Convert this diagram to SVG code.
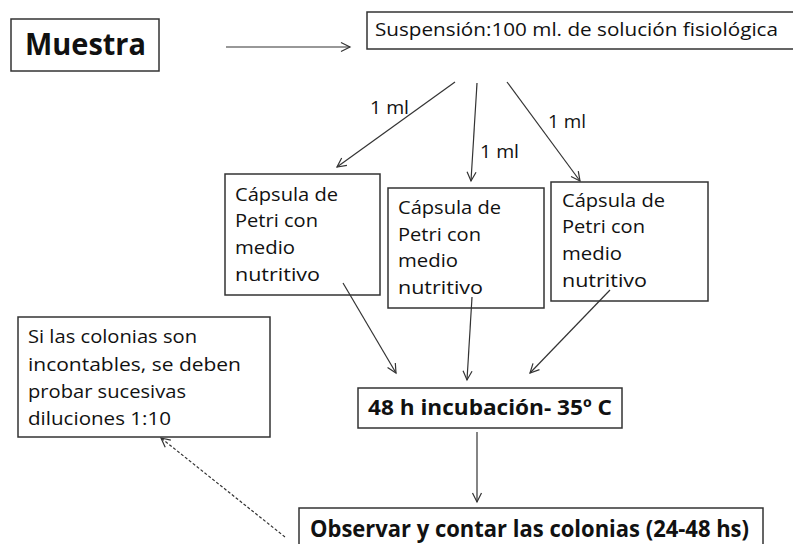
<svg xmlns="http://www.w3.org/2000/svg" width="793" height="544" viewBox="0 0 793 544">
<style>
.box{fill:#fff;stroke:#333;stroke-width:1.5}
.t{font-family:"Open Sans","Liberation Sans",sans-serif;font-size:18.5px;fill:#111;font-variant-ligatures:none}
.b{font-family:"Open Sans","Liberation Sans",sans-serif;font-weight:bold;fill:#111;font-variant-ligatures:none}
.c{stroke:#333;stroke-width:1.2;fill:none}
.d{stroke:#333;stroke-width:1.2;fill:none;stroke-dasharray:3,2}
</style>
<defs>
<marker id="ah" markerWidth="12" markerHeight="12" viewBox="0 0 12 12" refX="10" refY="6" orient="auto" markerUnits="userSpaceOnUse">
<polyline points="1,1.5 10,6 1,10.5" fill="none" stroke="#333" stroke-width="1.2"/>
</marker>
</defs>
<rect width="793" height="544" fill="#fff"/>
<g id="muestra">
<rect class="box" x="11" y="19" width="148" height="52"/>
<text class="b" x="25" y="55" font-size="31" textLength="121" lengthAdjust="spacingAndGlyphs">Muestra</text>
</g>
<g id="suspension">
<rect class="box" x="367" y="12" width="440" height="37"/>
<text class="t" x="375" y="36" font-size="17" textLength="403" lengthAdjust="spacingAndGlyphs">Suspensión:100 ml. de solución fisiológica</text>
</g>
<g id="capsula1">
<rect class="box" x="225" y="174" width="155" height="121"/>
<text class="t" x="235" y="200.5" textLength="103" lengthAdjust="spacingAndGlyphs">Cápsula de</text>
<text class="t" x="235" y="227" textLength="83" lengthAdjust="spacingAndGlyphs">Petri con</text>
<text class="t" x="235" y="253.5" textLength="60" lengthAdjust="spacingAndGlyphs">medio</text>
<text class="t" x="235" y="280.5" textLength="85" lengthAdjust="spacingAndGlyphs">nutritivo</text>
</g>
<g id="capsula2">
<rect class="box" x="388" y="188" width="156" height="120"/>
<text class="t" x="398" y="214" textLength="103" lengthAdjust="spacingAndGlyphs">Cápsula de</text>
<text class="t" x="398" y="240.5" textLength="83" lengthAdjust="spacingAndGlyphs">Petri con</text>
<text class="t" x="398" y="267" textLength="60" lengthAdjust="spacingAndGlyphs">medio</text>
<text class="t" x="398" y="294" textLength="85" lengthAdjust="spacingAndGlyphs">nutritivo</text>
</g>
<g id="capsula3">
<rect class="box" x="551" y="182" width="157" height="119"/>
<text class="t" x="562" y="206.5" textLength="103" lengthAdjust="spacingAndGlyphs">Cápsula de</text>
<text class="t" x="562" y="233" textLength="83" lengthAdjust="spacingAndGlyphs">Petri con</text>
<text class="t" x="562" y="260" textLength="60" lengthAdjust="spacingAndGlyphs">medio</text>
<text class="t" x="562" y="286.5" textLength="85" lengthAdjust="spacingAndGlyphs">nutritivo</text>
</g>
<g id="nota">
<rect class="box" x="18" y="317" width="252" height="120"/>
<text class="t" x="28" y="342.5" textLength="169" lengthAdjust="spacingAndGlyphs">Si las colonias son</text>
<text class="t" x="28" y="370.5" textLength="213" lengthAdjust="spacingAndGlyphs">incontables,  se deben</text>
<text class="t" x="28" y="398" textLength="158" lengthAdjust="spacingAndGlyphs">probar sucesivas</text>
<text class="t" x="28" y="425" textLength="143" lengthAdjust="spacingAndGlyphs">diluciones 1:10</text>
</g>
<g id="incubacion">
<rect class="box" x="358" y="388" width="264" height="40"/>
<text class="b" x="368" y="415" font-size="21.5" textLength="244" lengthAdjust="spacingAndGlyphs">48 h incubación- 35º C</text>
</g>
<g id="observar">
<rect class="box" x="299" y="508" width="464" height="50"/>
<text class="b" x="310" y="537" font-size="24" textLength="439" lengthAdjust="spacingAndGlyphs">Observar y contar las colonias (24-48 hs)</text>
</g>
<g id="connectors">
<line class="c" x1="226" y1="47" x2="350" y2="47" marker-end="url(#ah)"/>
<line class="c" x1="455" y1="82" x2="337" y2="167" marker-end="url(#ah)"/>
<line class="c" x1="477" y1="83" x2="471" y2="181" marker-end="url(#ah)"/>
<line class="c" x1="507" y1="82" x2="580" y2="181" marker-end="url(#ah)"/>
<line class="c" x1="343" y1="283" x2="396" y2="373" marker-end="url(#ah)"/>
<line class="c" x1="472" y1="297" x2="467" y2="380" marker-end="url(#ah)"/>
<line class="c" x1="610" y1="290" x2="530" y2="373" marker-end="url(#ah)"/>
<line class="c" x1="477" y1="432" x2="477" y2="502" marker-end="url(#ah)"/>
<line class="d" x1="285" y1="537" x2="161" y2="438" marker-end="url(#ah)"/>
<text class="t" x="370" y="114" textLength="39" lengthAdjust="spacingAndGlyphs">1 ml</text>
<text class="t" x="480" y="158" textLength="39" lengthAdjust="spacingAndGlyphs">1 ml</text>
<text class="t" x="548" y="128" textLength="38" lengthAdjust="spacingAndGlyphs">1 ml</text>
</g>
</svg>
